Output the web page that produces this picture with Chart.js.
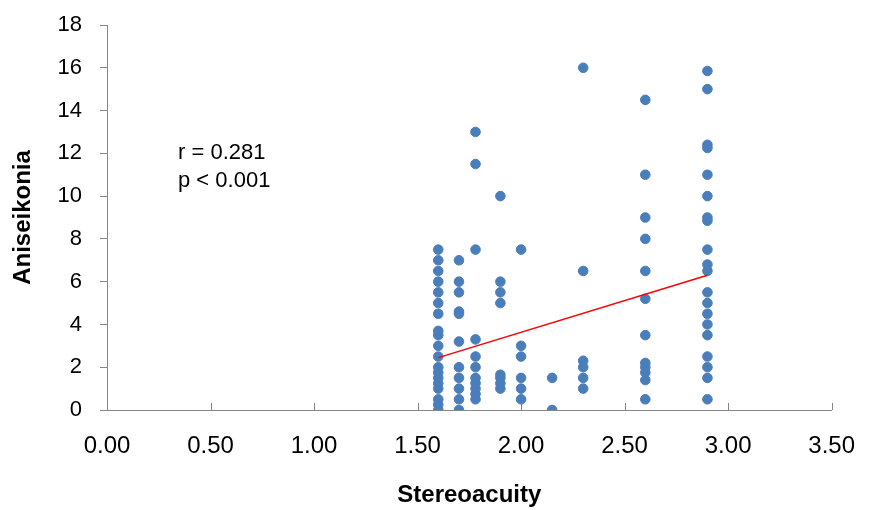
<!DOCTYPE html>
<html>
<head>
<meta charset="utf-8">
<script src="https://cdn.jsdelivr.net/npm/chart.js@4.4.1/dist/chart.umd.min.js"></script>
<style>
  html, body { margin: 0; padding: 0; background: #fff; }
  #wrap { width: 869px; height: 510px; }
</style>
</head>
<body>
<div id="wrap"><canvas id="chart" width="869" height="510"></canvas></div>
<script>
// ── Data ──────────────────────────────────────────────────────────────────────

const stereoacuity = [
  1.6, 1.6, 1.6, 1.6, 1.6, 1.6, 1.6, 1.6, 1.6, 1.6, 1.6, 1.6, 1.6, 1.6, 1.6, 1.6, 1.6, 1.6, 1.6,
  1.7, 1.7, 1.7, 1.7, 1.7, 1.7, 1.7, 1.7, 1.7, 1.7, 1.7,
  1.78, 1.78, 1.78, 1.78, 1.78, 1.78, 1.78, 1.78, 1.78, 1.78, 1.78,
  1.9, 1.9, 1.9, 1.9, 1.9, 1.9, 1.9, 1.9,
  2.0, 2.0, 2.0, 2.0, 2.0, 2.0,
  2.15, 2.15,
  2.3, 2.3, 2.3, 2.3, 2.3, 2.3,
  2.6, 2.6, 2.6, 2.6, 2.6, 2.6, 2.6, 2.6, 2.6, 2.6, 2.6, 2.6,
  2.9, 2.9, 2.9, 2.9, 2.9, 2.9, 2.9, 2.9, 2.9, 2.9, 2.9, 2.9, 2.9, 2.9, 2.9, 2.9, 2.9, 2.9, 2.9, 2.9
];

const aniseikonia = [
  7.5, 7, 6.5, 6, 5.5, 5, 4.5, 3.7, 3.5, 3, 2.5, 2, 1.75, 1.5, 1.25, 1, 0.5, 0.25, 0,
  7, 6, 5.5, 4.6, 4.5, 3.2, 2, 1.5, 1, 0.5, 0,
  13, 11.5, 7.5, 3.3, 2.5, 2, 1.5, 1.25, 1, 0.75, 0.5,
  10, 6, 5.5, 5, 1.65, 1.5, 1.25, 1,
  7.5, 3, 2.5, 1.5, 1, 0.5,
  1.5, 0,
  16, 6.5, 2.3, 2, 1.5, 1,
  14.5, 11, 9, 8, 6.5, 5.2, 3.5, 2.2, 2, 1.75, 1.4, 0.5,
  15.85, 15, 12.4, 12.25, 11, 10, 9, 8.85, 7.5, 6.8, 6.5, 5.5, 5, 4.5, 4, 3.5, 2.5, 2, 1.5, 0.5
];

// fitted line end points
const trendX = [1.6, 2.9];
const trendY = [2.45, 6.3];

const statsText = ['r = 0.281', 'p < 0.001'];

// ── Helpers ───────────────────────────────────────────────────────────────────

const AXIS_GREY = '#868686';
const FONT = "'Liberation Sans', Arial, sans-serif";

const points = stereoacuity.map((x, i) => ({ x, y: aniseikonia[i] }));
const trend = trendX.map((x, i) => ({ x, y: trendY[i] }));

// x ticks in the reference point up into the plot
const innerTicks = {
  id: 'innerTicks',
  afterDraw(chart) {
    const { ctx, scales: { x }, chartArea } = chart;
    ctx.save();
    ctx.strokeStyle = AXIS_GREY;
    ctx.lineWidth = 1;
    x.ticks.forEach(t => {
      const px = Math.round(x.getPixelForValue(t.value)) + 0.5;
      ctx.beginPath();
      ctx.moveTo(px, chartArea.bottom);
      ctx.lineTo(px, chartArea.bottom - 7);
      ctx.stroke();
    });
    ctx.restore();
  }
};

const statsLabel = {
  id: 'statsLabel',
  afterDraw(chart) {
    const { ctx } = chart;
    ctx.save();
    ctx.fillStyle = '#000';
    ctx.font = `22px ${FONT}`;
    ctx.textBaseline = 'middle';
    statsText.forEach((s, i) => ctx.fillText(s, 178, 153 + i * 28));
    ctx.restore();
  }
};

// ── Chart ─────────────────────────────────────────────────────────────────────

new Chart(document.getElementById('chart'), {
  type: 'scatter',
  data: {
    datasets: [
      {
        type: 'line',
        data: trend,
        borderColor: '#ff0000',
        borderWidth: 1.5,
        pointRadius: 0,
        fill: false,
        order: 0,
      },
      {
        data: points,
        backgroundColor: '#4a7ebb',
        borderColor: '#4a7ebb',
        pointRadius: 4.8,
        pointHoverRadius: 4.8,
        order: 1,
      }
    ]
  },
  options: {
    responsive: false,
    animation: false,
    events: [],
    layout: { padding: { top: 25, right: 37, left: 0, bottom: 0 } },
    plugins: { legend: { display: false }, tooltip: { enabled: false } },
    scales: {
      x: {
        type: 'linear',
        min: 0, max: 3.5,
        afterFit: s => { s.height = 100; },
        ticks: {
          stepSize: 0.5,
          color: '#000',
          padding: 14,
          font: { family: FONT, size: 24 },
          callback: v => v.toFixed(2),
        },
        // tick marks drawn by innerTicks; this only spaces the labels
        grid: { drawOnChartArea: false, drawTicks: true, tickLength: 8, color: 'rgba(0,0,0,0)' },
        border: { color: AXIS_GREY, width: 1 },
        title: {
          display: true,
          text: 'Stereoacuity',
          color: '#000',
          font: { family: FONT, size: 24, weight: 'bold' },
          padding: { top: 0, bottom: 0 },
        },
      },
      y: {
        min: 0, max: 18,
        afterFit: s => { s.width = 107; },
        ticks: {
          stepSize: 2,
          color: '#000',
          padding: 18,
          font: { family: FONT, size: 22, lineHeight: 0.6 },
        },
        grid: { drawOnChartArea: false, tickLength: 7, color: AXIS_GREY },
        border: { color: AXIS_GREY, width: 1 },
        title: {
          display: true,
          text: 'Aniseikonia',
          color: '#000',
          font: { family: FONT, size: 24, weight: 'bold' },
          padding: { top: 9, bottom: 0 },
        },
      },
    },
  },
  plugins: [innerTicks, statsLabel],
});
</script>
</body>
</html>
